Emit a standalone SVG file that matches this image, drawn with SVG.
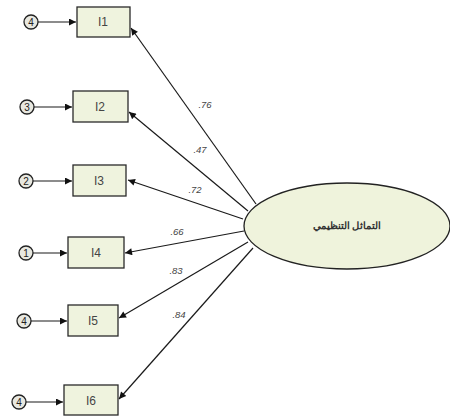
<svg xmlns="http://www.w3.org/2000/svg" width="450" height="417" viewBox="0 0 450 417">
<style>
.box{fill:#eff3de;stroke:#2a2a2a;stroke-width:1.3}
.err{fill:#e8e8e0;stroke:#222;stroke-width:1.3}
.lat{fill:#eff3dc;stroke:#222;stroke-width:1.3}
.t{font-family:"Liberation Sans",Arial,sans-serif;font-size:12px;fill:#444;text-anchor:middle}
.et{font-family:"Liberation Sans",Arial,sans-serif;font-size:10px;fill:#222;text-anchor:middle}
.lbl{font-family:"Liberation Sans",Arial,sans-serif;font-size:9.5px;fill:#444;text-anchor:middle;font-style:italic}
.c{stroke:#1a1a1a;stroke-width:1.2;fill:none;marker-end:url(#ah)}
</style>
<defs>
<marker id="ah" viewBox="0 0 10 10" refX="10" refY="5" markerWidth="11" markerHeight="7" orient="auto" markerUnits="userSpaceOnUse">
<path d="M0,0 L10,5 L0,10 z" fill="#111"/>
</marker>
</defs>
<rect width="450" height="417" fill="#fff"/>
<g id="connectors">
<line class="c" x1="38" y1="22" x2="76" y2="22"/>
<line class="c" x1="34" y1="107" x2="72" y2="107"/>
<line class="c" x1="33" y1="181" x2="72" y2="181"/>
<line class="c" x1="33" y1="253" x2="67" y2="253"/>
<line class="c" x1="31" y1="321" x2="67" y2="321"/>
<line class="c" x1="26" y1="402" x2="63" y2="402"/>
<line class="c" x1="256" y1="204" x2="131" y2="28"/>
<line class="c" x1="248" y1="211" x2="129" y2="112"/>
<line class="c" x1="243" y1="219" x2="128" y2="180"/>
<line class="c" x1="244" y1="231" x2="125" y2="253"/>
<line class="c" x1="248" y1="242" x2="119" y2="318"/>
<line class="c" x1="253" y1="248" x2="119" y2="399"/>
<text class="lbl" x="205" y="108">.76</text>
<text class="lbl" x="200" y="153">.47</text>
<text class="lbl" x="195" y="193">.72</text>
<text class="lbl" x="177" y="235">.66</text>
<text class="lbl" x="176" y="274">.83</text>
<text class="lbl" x="179" y="318">.84</text>
</g>
<g id="latent">
<ellipse class="lat" cx="347" cy="226" rx="103" ry="43"/>
<text class="t" x="347" y="229" style="font-size:10px;font-weight:bold;fill:#333" direction="rtl">التماثل التنظيمي</text>
</g>
<g id="I1"><rect class="box" x="77" y="7" width="53" height="30"/><text class="t" x="103" y="26">I1</text></g>
<g id="I2"><rect class="box" x="73" y="91" width="55" height="31"/><text class="t" x="100" y="111">I2</text></g>
<g id="I3"><rect class="box" x="73" y="165" width="53" height="31"/><text class="t" x="99" y="185">I3</text></g>
<g id="I4"><rect class="box" x="68" y="237" width="56" height="31"/><text class="t" x="96" y="257">I4</text></g>
<g id="I5"><rect class="box" x="68" y="305" width="50" height="31"/><text class="t" x="93" y="325">I5</text></g>
<g id="I6"><rect class="box" x="64" y="385" width="54" height="30"/><text class="t" x="91" y="405">I6</text></g>
<g id="e1"><circle class="err" cx="31" cy="22" r="7"/><text class="et" x="31" y="25.5">4</text></g>
<g id="e2"><circle class="err" cx="27" cy="107" r="7"/><text class="et" x="27" y="110.5">3</text></g>
<g id="e3"><circle class="err" cx="26" cy="181" r="7"/><text class="et" x="26" y="184.5">2</text></g>
<g id="e4"><circle class="err" cx="26" cy="253" r="7"/><text class="et" x="26" y="256.5">1</text></g>
<g id="e5"><circle class="err" cx="24" cy="321" r="7"/><text class="et" x="24" y="324.5">4</text></g>
<g id="e6"><circle class="err" cx="19" cy="402" r="7"/><text class="et" x="19" y="405.5">4</text></g>
</svg>
